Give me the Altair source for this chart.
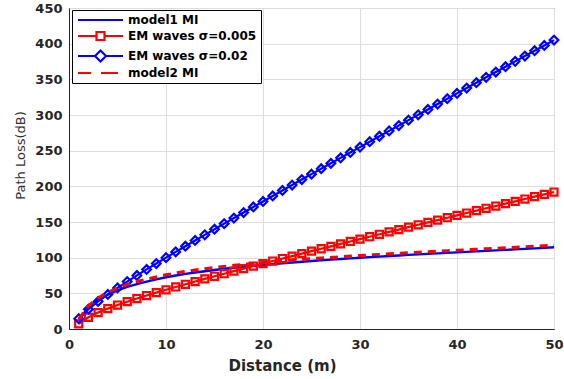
import altair as alt
import pandas as pd

distance = list(range(1, 51))

model1_mi = [13.0, 30.0, 40.5, 48.0, 54.0, 59.0, 63.0, 66.5, 69.5, 72.5,
             75.0, 77.2, 79.2, 81.0, 82.8, 84.4, 85.9, 87.3, 88.6, 89.9,
             91.1, 92.2, 93.3, 94.3, 95.3, 96.3, 97.2, 98.1, 99.0, 99.9,
             100.7, 101.5, 102.3, 103.1, 103.9, 104.6, 105.3, 106.0, 106.7, 107.4,
             108.1, 108.8, 109.5, 110.2, 110.9, 111.6, 112.3, 113.0, 113.8, 114.5]

em_005 = [7.3, 16.4, 23.0, 28.6, 33.6, 38.3, 42.7, 46.9, 51.0, 55.0,
          58.9, 62.7, 66.5, 70.2, 73.9, 77.5, 81.1, 84.7, 88.3, 91.8,
          95.3, 98.8, 102.2, 105.7, 109.1, 112.5, 115.9, 119.3, 122.7, 126.0,
          129.4, 132.8, 136.1, 139.4, 142.8, 146.1, 149.4, 152.7, 156.0, 159.3,
          162.6, 165.9, 169.2, 172.4, 175.7, 179.0, 182.2, 185.5, 188.7, 192.0]

em_002 = [14.5, 27.8, 38.6, 48.4, 57.6, 66.5, 75.1, 83.5, 91.8, 100.0,
          108.1, 116.1, 124.1, 132.0, 139.9, 147.7, 155.5, 163.3, 171.1, 178.8,
          186.5, 194.2, 201.8, 209.5, 217.1, 224.7, 232.3, 239.9, 247.5, 255.0,
          262.6, 270.2, 277.7, 285.2, 292.8, 300.3, 307.8, 315.3, 322.8, 330.3,
          337.8, 345.3, 352.8, 360.2, 367.7, 375.2, 382.6, 390.1, 397.5, 405.0]

model2_mi = [14.0, 32.5, 43.5, 51.5, 57.5, 62.5, 66.5, 70.0, 73.0, 76.0,
             78.5, 80.7, 82.7, 84.5, 86.2, 87.8, 89.3, 90.7, 92.0, 93.2,
             94.4, 95.5, 96.6, 97.6, 98.6, 99.5, 100.4, 101.3, 102.2, 103.0,
             103.8, 104.6, 105.4, 106.2, 106.9, 107.6, 108.3, 109.0, 109.7, 110.4,
             111.1, 111.8, 112.5, 113.2, 113.9, 114.6, 115.3, 116.0, 116.7, 117.4]

names = ["model1 MI", "EM waves σ=0.005", "EM waves σ=0.02", "model2 MI"]
colors = ["#0000ff", "#ff0000", "#0000ff", "#ff0000"]

rows = []
for name, vals in zip(names, [model1_mi, em_005, em_002, model2_mi]):
    for d, v in zip(distance, vals):
        rows.append({"distance": d, "loss": v, "series": name})
df = pd.DataFrame(rows)

# legend glyphs (unit = 4 px, line spans -1..10.25 units => 45 px)
shape_expr = (
    "datum.value === 'model1 MI' ? 'M-1,0H10.25' : "
    "datum.value === 'EM waves σ=0.005' ? 'M-1,0H3.625M5.625,0H10.25M3.625,-1H5.625V1H3.625Z' : "
    "datum.value === 'EM waves σ=0.02' ? 'M-1,0H3.25M6,0H10.25M3.25,0L4.625,-1.375L6,0L4.625,1.375Z' : "
    "'M-1,0H2.25M4.75,0H9'"
)

legend = alt.Legend(
    title=None, orient="none", legendX=3, legendY=2,
    fillColor="white", strokeColor="black", padding=4,
    symbolType={"expr": shape_expr}, symbolSize=64, symbolStrokeWidth=2.2,
    symbolFillColor="transparent",
    labelFont="DejaVu Sans", labelFontWeight="bold", labelFontSize=12,
    labelColor="black", labelOffset=40, rowPadding=1,
)

color = alt.Color("series:N", scale=alt.Scale(domain=names, range=colors), legend=legend)

x = alt.X("distance:Q", scale=alt.Scale(domain=[0, 50], nice=False),
          axis=alt.Axis(values=[0, 10, 20, 30, 40, 50], title="Distance (m)",
                        labelFlush=False, labelPadding=9,
                        titleX=213, titleY=36, titleBaseline="middle",
                        titleFont="DejaVu Sans", titleFontWeight="bold", titleFontSize=15,
                        titleColor="#262626"))
y = alt.Y("loss:Q", scale=alt.Scale(domain=[0, 450], nice=False),
          axis=alt.Axis(values=list(range(0, 451, 50)), title="Path Loss(dB)",
                        labelPadding=7, titleX=-49, titleY=147, titleBaseline="middle",
                        titleAngle=270, titleAlign="center",
                        titleFont="DejaVu Sans", titleFontWeight="normal", titleFontSize=13,
                        titleColor="#303030"))

base = alt.Chart(df)

def sel(name):
    return base.transform_filter(alt.datum.series == name)

l_m1 = sel(names[0]).mark_line(strokeWidth=2.4).encode(x=x, y=y, color=color)
l_sq = sel(names[1]).mark_line(strokeWidth=2.2).encode(x=x, y=y, color=color)
p_sq = sel(names[1]).mark_point(shape="square", filled=False, size=50, strokeWidth=2.2, opacity=1).encode(x=x, y=y, color=color)
l_di = sel(names[2]).mark_line(strokeWidth=2.2).encode(x=x, y=y, color=color)
p_di = sel(names[2]).mark_point(shape="diamond", filled=False, size=75, strokeWidth=2.2, opacity=1).encode(x=x, y=y, color=color)
l_m2 = sel(names[3]).mark_line(strokeWidth=3, strokeDash=[8, 6]).encode(x=x, y=y, color=color)

chart = alt.layer(l_m1, l_sq, p_sq, l_di, p_di, l_m2).properties(
    width=485, height=321,
    autosize=alt.AutoSizeParams(type="none"),
    padding={"left": 69, "top": 8, "right": 10, "bottom": 50},
    background="white",
).configure_view(stroke="#262626", strokeWidth=1).configure_axis(
    labelFont="DejaVu Sans", labelFontWeight="bold", labelFontSize=13,
    labelColor="#262626", domainColor="#262626", gridColor="#dedede",
    ticks=False,
)

chart.save("out.html", embed_options={"renderer": "svg", "actions": False})
